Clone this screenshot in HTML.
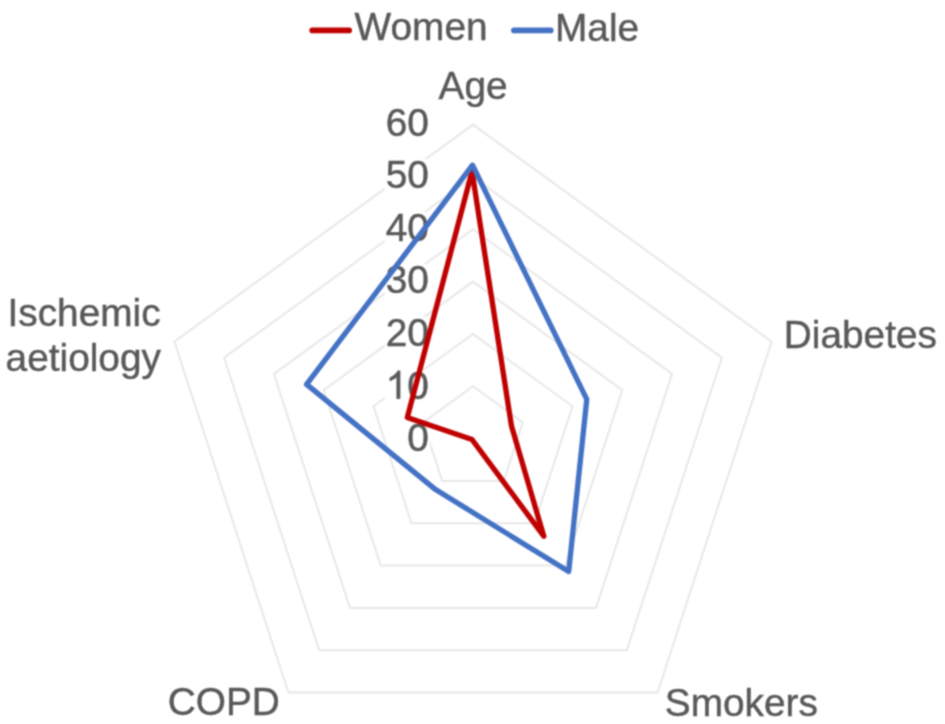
<!DOCTYPE html>
<html><head><meta charset="utf-8"><style>
html,body{margin:0;padding:0;background:#fff;}
svg{display:block;}
text{font-family:"Liberation Sans",sans-serif;font-size:38.80px;fill:#595959;stroke:#595959;stroke-width:0.45px;}
</style></head><body>
<svg width="945" height="724" viewBox="0 0 945 724">
<defs><filter id="bl" x="0" y="0" width="945" height="724" filterUnits="userSpaceOnUse" color-interpolation-filters="sRGB"><feConvolveMatrix order="3" kernelMatrix="0.0571 0.1248 0.0571 0.1248 0.2725 0.1248 0.0571 0.1248 0.0571" edgeMode="duplicate"/></filter></defs>
<g filter="url(#bl)">
<rect width="945" height="724" fill="#fff"/>
<g fill="none" stroke="#e8e8e8" stroke-width="2">
<polygon points="473.0,386.3 522.8,422.4 503.8,480.9 442.2,480.9 423.2,422.4"/>
<polygon points="473.0,333.9 572.5,406.3 534.5,523.3 411.5,523.3 373.5,406.3"/>
<polygon points="473.0,281.6 622.3,390.1 565.3,565.6 380.7,565.6 323.7,390.1"/>
<polygon points="473.0,229.3 672.1,373.9 596.0,608.0 350.0,608.0 273.9,373.9"/>
<polygon points="473.0,176.9 721.9,357.7 626.8,650.3 319.2,650.3 224.1,357.7"/>
<polygon points="473.0,124.6 771.6,341.6 657.6,692.6 288.4,692.6 174.4,341.6"/>
</g>
<g fill="#fff"><rect x="384.6" y="106.5" width="45.2" height="32.0"/><rect x="384.6" y="159.1" width="45.2" height="32.0"/><rect x="384.6" y="211.8" width="45.2" height="32.0"/><rect x="384.6" y="264.4" width="45.2" height="32.0"/><rect x="384.6" y="317.0" width="45.2" height="32.0"/><rect x="384.6" y="369.7" width="45.2" height="32.0"/><rect x="406.2" y="422.3" width="23.6" height="32.0"/></g>
<text x="428.80" y="135.50" text-anchor="end">60</text><text x="428.80" y="188.13" text-anchor="end">50</text><text x="428.80" y="240.76" text-anchor="end">40</text><text x="428.80" y="293.39" text-anchor="end">30</text><text x="428.80" y="346.02" text-anchor="end">20</text><path d="M400.10,398.65 L396.69,398.65 L396.69,376.92 Q395.46,378.09 393.45,379.27 Q391.44,380.44 389.83,381.03 L389.83,377.73 Q392.69,376.39 394.83,374.48 Q396.97,372.56 397.86,370.76 L400.10,370.76 Z" fill="#595959" stroke="#595959" stroke-width="0.45"/><text x="428.80" y="398.65" text-anchor="end">0</text><text x="428.80" y="451.28" text-anchor="end">0</text>
<text x="354.60" y="39.90">Women</text>
<text x="555.00" y="40.60">Male</text>
<text x="438.60" y="99.00">Age</text>
<text x="7.50" y="326.00">Ischemic</text>
<text x="5.60" y="371.00">aetiology</text>
<text x="783.80" y="348.10">Diabetes</text>
<text x="167.80" y="715.30">COPD</text><text x="664.80" y="716.20">Smokers</text>
<polygon points="472.0,171.5 511.5,426.1 543.8,536.2 472.0,439.5 407.3,417.5" fill="none" stroke="#c00000" stroke-width="5.3" stroke-linejoin="round"/>
<polygon points="472.5,165.2 586.8,399.3 568.7,571.5 435.6,489.6 306.6,384.4" fill="none" stroke="#4472c4" stroke-width="5.3" stroke-linejoin="round"/>
<line x1="312.2" y1="30.4" x2="349.2" y2="30.4" stroke="#c00000" stroke-width="5.6" stroke-linecap="round"/>
<line x1="513.9" y1="30.4" x2="550.8" y2="30.4" stroke="#4472c4" stroke-width="5.6" stroke-linecap="round"/>
</g>
</svg>
</body></html>
